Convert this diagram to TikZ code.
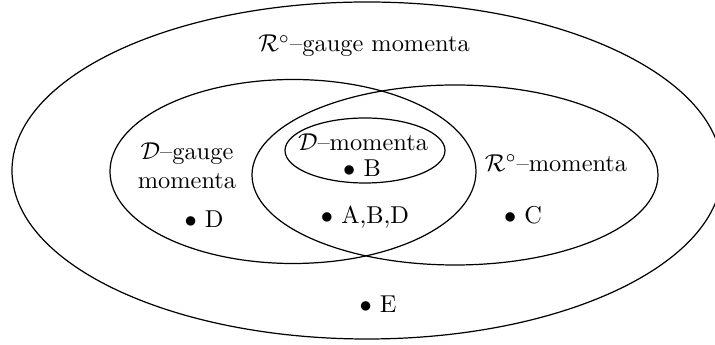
\documentclass[tikz,border=0pt]{standalone}
\usepackage{amsmath,amssymb}
\usepackage{tikz}
\usetikzlibrary{positioning}

\begin{document}
\begin{tikzpicture}[
    x=0.41pt, y=-0.41pt,
    font=\normalsize,
    set/.style={draw=black, line width=0.5pt},
    lab/.style={inner sep=0pt, align=center},
    pt/.style={inner sep=0pt}
]
\useasboundingbox (0,0) rectangle (715,345);

% the four sets
\draw[set] (367,170.5) ellipse [x radius=355, y radius=168.5];
\draw[set] (293,171.5) ellipse [x radius=183, y radius=92];
\draw[set] (455,175)   ellipse [x radius=203, y radius=90];
\draw[set] (365,150.5) ellipse [x radius=80,  y radius=32.5];

% set names
\node[lab] (rgauge) at (364,46)  {$\mathcal{R}^{\circ}$--gauge momenta};
\node[lab] (dgauge) at (187,166) {$\mathcal{D}$--gauge\\momenta};
\node[lab] (dmom)   at (363,142) {$\mathcal{D}$--momenta};
\node[lab] (rmom)   at (556,163) {$\mathcal{R}^{\circ}$--momenta};

% points
\node[pt] (pB)   at (362,168) {$\bullet$ B};
\node[pt] (pABD) at (365,217) {$\bullet$ A,B,D};
\node[pt] (pD)   at (204,219) {$\bullet$ D};
\node[pt] (pC)   at (523,215) {$\bullet$ C};
\node[pt] (pE)   at (378,304) {$\bullet$ E};
\end{tikzpicture}
\end{document}
